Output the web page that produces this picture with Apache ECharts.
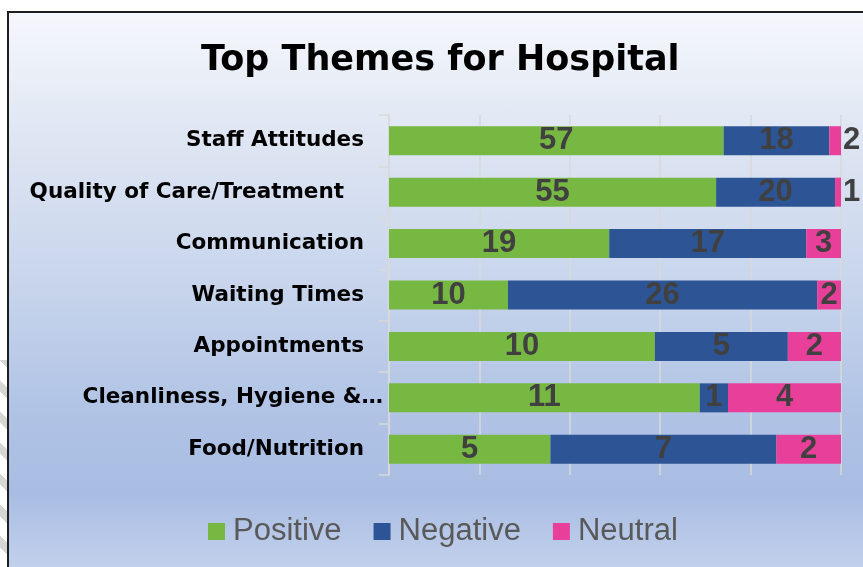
<!DOCTYPE html>
<html>
<head>
<meta charset="utf-8">
<script src="https://cdn.jsdelivr.net/npm/echarts@6/dist/echarts.min.js"></script>
<style>
  html, body { margin: 0; padding: 0; background: #fff; }
  #page { position: relative; width: 863px; height: 567px; overflow: hidden; }
  #stripes { position: absolute; left: 0; top: 360px; width: 8px; bottom: 0;
    background: repeating-linear-gradient(45deg, #fff 0 14px, #d6d6d2 14px 22px); }
  #frame { position: absolute; left: 7px; top: 11px; right: -4px; bottom: -4px;
    border-left: 2px solid #1e1e1e; border-top: 2px solid #1e1e1e;
    background: linear-gradient(to bottom, #f5f7fc 0%, #dfe6f3 22%, #c8d5ec 48%, #b0c3e5 72%, #a9bde3 86%, #c3d1ec 100%); }
  #chart { position: absolute; left: 0; top: 0; width: 863px; height: 567px; }
</style>
</head>
<body>
<div id="page">
  <div id="stripes"></div>
  <div id="frame"></div>
  <div id="chart"></div>
</div>
<script>
    // 各主题的评论数量（正面 / 负面 / 中立）
    const categories = ['Staff Attitudes', 'Quality of Care/Treatment', 'Communication', 'Waiting Times',
        'Appointments', 'Cleanliness, Hygiene &…', 'Food/Nutrition'];
    const positive = [57, 55, 19, 10, 10, 11, 5];
    const negative = [18, 20, 17, 26, 5, 1, 7];
    const neutral = [2, 1, 3, 2, 2, 4, 2];
    const seriesNames = ['Positive', 'Negative', 'Neutral'];

    const colors = ['#77b843', '#2d5596', '#e8409a'];
    const labelStyleKey = ['a', 'b', 'a', 'a', 'a', 'c', 'a']; // 类目标签右侧留白

    let totals = categories.map((c, i) => positive[i] + negative[i] + neutral[i]);

    let seriesData = [positive, negative, neutral].map((vals, k) => {
        return {
            name: seriesNames[k],
            type: 'bar',
            stack: 'total',
            barWidth: 29,
            itemStyle: { color: colors[k] },
            label: {
                show: true,
                position: 'inside',
                formatter: p => vals[p.dataIndex],
                fontFamily: 'Liberation Sans',
                fontWeight: 'bold',
                fontSize: 31,
                color: '#404040'
            },
            // 百分比堆叠，标签显示原始数量
            data: vals.map((v, i) => {
                let pct = v / totals[i] * 100;
                if (pct < 4) {
                    return { value: pct, label: { position: 'right', distance: 2 } };
                }
                return pct;
            })
        };
    });

    const catFont = { fontFamily: 'DejaVu Sans', fontWeight: 'bold', fontSize: 21.5, color: '#000' };

    let myChart = echarts.init(document.getElementById('chart'), null, { renderer: 'canvas' });
    let option = {
        animation: false,
        title: {
            text: 'Top Themes for Hospital',
            left: 196,
            top: 38,
            textStyle: { fontFamily: 'DejaVu Sans', fontWeight: 'bold', fontSize: 35, color: '#000' }
        },
        legend: {
            data: seriesNames,
            left: 203,
            top: 511,
            icon: 'rect',
            itemWidth: 17,
            itemHeight: 17,
            itemGap: 32,
            textStyle: { fontFamily: 'Liberation Sans', fontSize: 31, color: '#595959', padding: [0, 0, 0, 3] }
        },
        grid: { left: 389, right: 22, top: 115, bottom: 92, containLabel: false },
        xAxis: {
            type: 'value',
            min: 0,
            max: 100,
            interval: 20,
            axisLabel: { show: false },
            axisLine: { show: false },
            axisTick: { show: false },
            splitLine: { show: true, lineStyle: { color: '#d9d9d9', width: 1.5 } }
        },
        yAxis: {
            type: 'category',
            inverse: true,
            data: categories,
            axisLine: { show: true, lineStyle: { color: '#d9d9d9', width: 1.5 } },
            axisTick: { show: true, length: 10, lineStyle: { color: '#d9d9d9', width: 1.5 } },
            axisLabel: {
                margin: 6,
                formatter: (v, i) => '{' + labelStyleKey[i] + '|' + v + '}',
                rich: {
                    a: Object.assign({ padding: [0, 19, 0, 0] }, catFont),
                    b: Object.assign({ padding: [0, 39, 0, 0] }, catFont),
                    c: Object.assign({ padding: [0, 0, 0, 0] }, catFont)
                }
            }
        },
        series: seriesData
    };
    myChart.setOption(option);
</script>
</body>
</html>
